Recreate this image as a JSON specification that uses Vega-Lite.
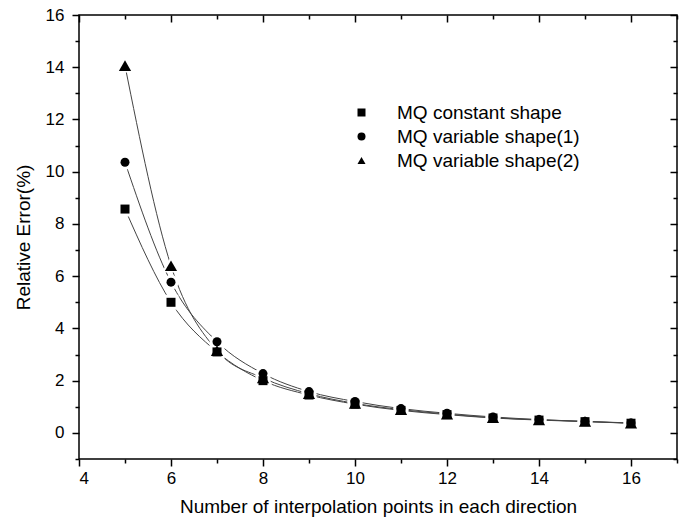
{
  "$schema": "https://vega.github.io/schema/vega-lite/v6.json",
  "width": 598,
  "height": 444,
  "autosize": {"type": "none"},
  "padding": {"left": 79, "top": 15, "right": 7, "bottom": 60},
  "config": {
    "font": "Liberation Sans",
    "view": {"stroke": "#000", "strokeWidth": 1.5},
    "axis": {
      "domain": false,
      "grid": false,
      "tickColor": "#000",
      "tickWidth": 1.5,
      "labelColor": "#000",
      "titleColor": "#000",
      "labelFont": "Liberation Sans",
      "titleFont": "Liberation Sans",
      "labelFontSize": 17,
      "titleFontSize": 19,
      "titleFontWeight": "normal"
    }
  },
  "data": {
    "values": [
      {"n": 5, "err": 8.57, "series": "MQ constant shape"},
      {"n": 6, "err": 5.0, "series": "MQ constant shape"},
      {"n": 7, "err": 3.1, "series": "MQ constant shape"},
      {"n": 8, "err": 2.0, "series": "MQ constant shape"},
      {"n": 9, "err": 1.45, "series": "MQ constant shape"},
      {"n": 10, "err": 1.1, "series": "MQ constant shape"},
      {"n": 11, "err": 0.86, "series": "MQ constant shape"},
      {"n": 12, "err": 0.7, "series": "MQ constant shape"},
      {"n": 13, "err": 0.57, "series": "MQ constant shape"},
      {"n": 14, "err": 0.49, "series": "MQ constant shape"},
      {"n": 15, "err": 0.43, "series": "MQ constant shape"},
      {"n": 16, "err": 0.37, "series": "MQ constant shape"},
      {"n": 5, "err": 10.36, "series": "MQ variable shape(1)"},
      {"n": 6, "err": 5.77, "series": "MQ variable shape(1)"},
      {"n": 7, "err": 3.49, "series": "MQ variable shape(1)"},
      {"n": 8, "err": 2.27, "series": "MQ variable shape(1)"},
      {"n": 9, "err": 1.58, "series": "MQ variable shape(1)"},
      {"n": 10, "err": 1.2, "series": "MQ variable shape(1)"},
      {"n": 11, "err": 0.93, "series": "MQ variable shape(1)"},
      {"n": 12, "err": 0.75, "series": "MQ variable shape(1)"},
      {"n": 13, "err": 0.61, "series": "MQ variable shape(1)"},
      {"n": 14, "err": 0.51, "series": "MQ variable shape(1)"},
      {"n": 15, "err": 0.44, "series": "MQ variable shape(1)"},
      {"n": 16, "err": 0.38, "series": "MQ variable shape(1)"},
      {"n": 5, "err": 14.06, "series": "MQ variable shape(2)"},
      {"n": 6, "err": 6.4, "series": "MQ variable shape(2)"},
      {"n": 7, "err": 3.15, "series": "MQ variable shape(2)"},
      {"n": 8, "err": 2.1, "series": "MQ variable shape(2)"},
      {"n": 9, "err": 1.5, "series": "MQ variable shape(2)"},
      {"n": 10, "err": 1.13, "series": "MQ variable shape(2)"},
      {"n": 11, "err": 0.89, "series": "MQ variable shape(2)"},
      {"n": 12, "err": 0.72, "series": "MQ variable shape(2)"},
      {"n": 13, "err": 0.58, "series": "MQ variable shape(2)"},
      {"n": 14, "err": 0.5, "series": "MQ variable shape(2)"},
      {"n": 15, "err": 0.44, "series": "MQ variable shape(2)"},
      {"n": 16, "err": 0.37, "series": "MQ variable shape(2)"}
    ]
  },
  "layer": [
    {
      "mark": {"type": "line", "interpolate": "monotone", "color": "#444", "strokeWidth": 1},
      "encoding": {
        "detail": {"field": "series", "type": "nominal"},
        "x": {
          "field": "n", "type": "quantitative",
          "scale": {"domain": [4, 17], "nice": false, "zero": false},
          "title": "Number of interpolation points in each direction",
          "axis": {
            "orient": "bottom",
            "values": [4, 6, 8, 10, 12, 14, 16],
            "tickSize": 7,
            "labelPadding": 4,
            "titlePadding": 11
          }
        },
        "y": {
          "field": "err", "type": "quantitative",
          "scale": {"domain": [-1, 16], "nice": false, "zero": false},
          "title": "Relative Error(%)",
          "axis": {
            "orient": "left",
            "values": [0, 2, 4, 6, 8, 10, 12, 14, 16],
            "tickSize": 7,
            "labelPadding": 8,
            "titlePadding": 12
          }
        }
      }
    },
    {
      "mark": {"type": "point", "filled": true, "fill": "#fff", "stroke": "#fff", "strokeWidth": 5, "opacity": 1, "size": 100},
      "encoding": {
        "x": {
          "field": "n", "type": "quantitative",
          "title": " ",
          "axis": {"orient": "bottom", "values": [5, 7, 9, 11, 13, 15, 17], "ticks": true, "tickSize": 4, "labelExpr": "''", "domain": false}
        },
        "y": {
          "field": "err", "type": "quantitative",
          "title": " ",
          "axis": {"orient": "left", "values": [-1, 1, 3, 5, 7, 9, 11, 13, 15], "ticks": true, "tickSize": 4, "labelExpr": "''", "domain": false}
        },
        "shape": {"field": "series", "type": "nominal", "legend": null}
      }
    },
    {
      "transform": [{"filter": "datum.series !== 'MQ variable shape(2)'"}],
      "mark": {"type": "point", "filled": true, "color": "#000", "opacity": 1, "size": 81},
      "encoding": {
        "x": {
          "field": "n", "type": "quantitative",
          "title": " ",
          "axis": {"orient": "bottom", "offset": -444, "values": [4, 6, 8, 10, 12, 14, 16], "ticks": true, "tickSize": 7, "labelExpr": "''", "domain": false}
        },
        "y": {
          "field": "err", "type": "quantitative",
          "title": " ",
          "axis": {"orient": "left", "offset": -598, "values": [0, 2, 4, 6, 8, 10, 12, 14, 16], "ticks": true, "tickSize": 7, "labelExpr": "''", "domain": false}
        },
        "shape": {
          "field": "series", "type": "nominal",
          "scale": {
            "domain": ["MQ constant shape", "MQ variable shape(1)", "MQ variable shape(2)"],
            "range": ["square", "circle", "triangle-up"]
          },
          "legend": {
            "title": null,
            "orient": "none",
            "legendX": 253,
            "legendY": 88,
            "symbolSize": 64,
            "symbolOffset": 20,
            "symbolFillColor": "#000",
            "symbolStrokeColor": "#000",
            "symbolStrokeWidth": 1,
            "labelFont": "Liberation Sans",
            "labelFontSize": 19,
            "labelColor": "#000",
            "labelOffset": 26,
            "labelLimit": 400,
            "rowPadding": 4
          }
        }
      }
    },
    {
      "transform": [{"filter": "datum.series === 'MQ variable shape(2)'"}],
      "mark": {"type": "point", "filled": true, "color": "#000", "opacity": 1, "size": 150},
      "encoding": {
        "x": {
          "field": "n", "type": "quantitative",
          "title": " ",
          "axis": {"orient": "bottom", "offset": -444, "values": [5, 7, 9, 11, 13, 15, 17], "ticks": true, "tickSize": 4, "labelExpr": "''", "domain": false}
        },
        "y": {
          "field": "err", "type": "quantitative",
          "title": " ",
          "axis": {"orient": "left", "offset": -598, "values": [-1, 1, 3, 5, 7, 9, 11, 13, 15], "ticks": true, "tickSize": 4, "labelExpr": "''", "domain": false}
        },
        "shape": {"field": "series", "type": "nominal", "legend": null}
      }
    }
  ],
  "resolve": {
    "axis": {"x": "independent", "y": "independent"},
    "legend": {"shape": "independent"}
  }
}
